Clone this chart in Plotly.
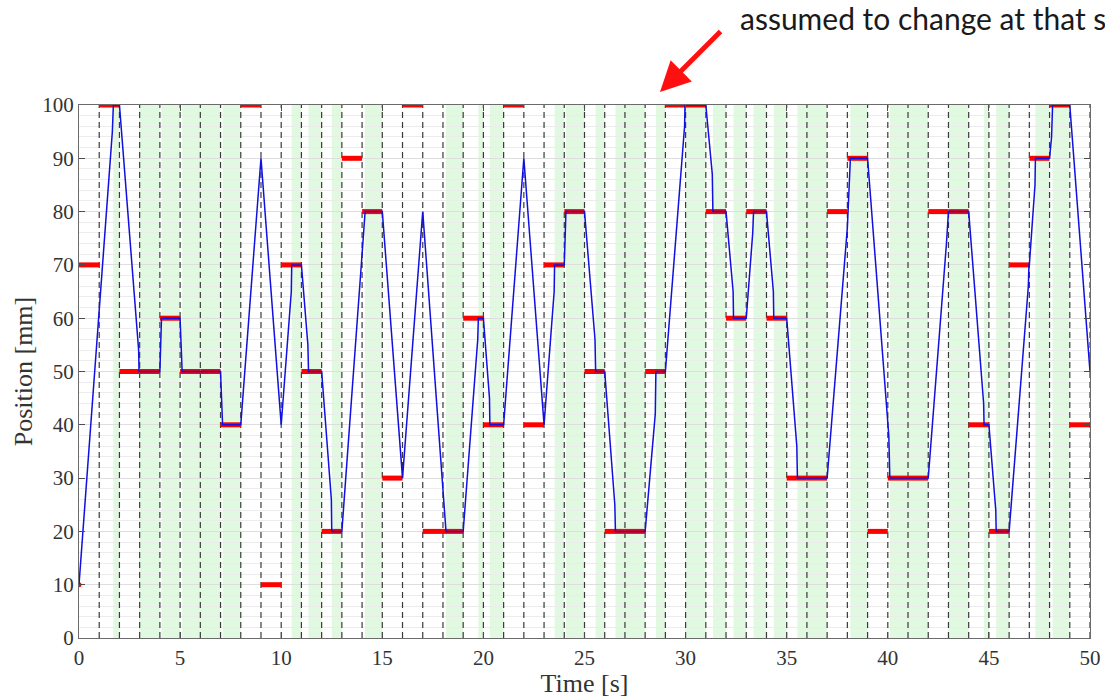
import plotly.graph_objects as go

# Commanded position held over each 1 s interval [k, k+1)
setpoint_mm = [70, 100, 50, 50, 60, 50, 50, 40, 100, 10,
               70, 50, 20, 90, 80, 30, 100, 20, 20, 60,
               40, 100, 40, 70, 80, 50, 20, 20, 50, 100,
               100, 80, 60, 80, 60, 30, 30, 80, 90, 20,
               30, 30, 80, 80, 40, 20, 70, 90, 100, 40]
start_t = 0
start_mm = 10

# Measured position, breakpoints of the recorded trace
pos_t = [0, 1.65, 1.7, 2.0, 2.95, 2.97, 4.0, 4.05, 4.08, 5.0, 5.05, 5.1,
         7.0, 7.05, 7.1, 8.0, 9.0, 10.0, 10.5, 10.52, 11.0, 11.32, 11.35,
         12.0, 12.48, 12.5, 13.0, 14.0, 14.15, 15.0, 15.97, 16.0, 17.0,
         18.0, 18.15, 19.0, 19.72, 19.75, 20.0, 20.3, 20.32, 21.0, 22.0,
         23.0, 23.5, 23.52, 24.0, 24.05, 24.08, 25.0, 25.52, 25.55, 26.0,
         26.5, 26.53, 28.0, 28.5, 28.53, 29.0, 29.95, 29.97, 31.0, 31.32,
         31.35, 32.0, 32.35, 32.37, 33.0, 33.32, 33.36, 34.0, 34.34, 34.36,
         35.0, 35.5, 35.53, 37.0, 38.0, 38.15, 39.0, 40.05, 40.1, 42.0,
         42.9, 43.0, 44.0, 44.74, 44.76, 45.0, 45.34, 45.36, 46.0, 46.95,
         46.98, 47.0, 47.28, 47.3, 48.0, 48.1, 48.15, 49.0, 50.0]
pos_mm = [10, 95, 100, 100, 54, 50, 50, 56, 60, 60, 55, 50,
          50, 45, 40, 40, 90, 40, 65, 70, 70, 55, 50,
          50, 26, 20, 20, 72, 80, 80, 30, 30, 80,
          27, 20, 20, 56, 60, 60, 45, 40, 40, 90,
          40, 65, 70, 70, 76, 80, 80, 56, 50, 50,
          25, 20, 20, 42, 50, 50, 96, 100, 100, 87,
          80, 80, 65, 60, 60, 76, 80, 80, 65, 60,
          60, 36, 30, 30, 77, 90, 90, 38, 30, 30,
          74, 80, 80, 44, 40, 40, 24, 20, 20, 66,
          70, 70, 85, 90, 90, 94, 100, 100, 50]

# Intervals during which the measured position sits on the setpoint
settled_start = [1.7, 2.97, 4.08, 5.1, 7.1, 10.52, 11.35, 12.5, 14.15, 18.15,
                 19.75, 20.32, 23.52, 24.08, 25.55, 26.53, 28.53, 29.97, 31.35,
                 32.37, 33.36, 34.36, 35.53, 38.15, 40.1, 43.0, 44.76, 45.36,
                 46.98, 47.3, 48.15]
settled_end = [2.0, 4.0, 5.0, 7.0, 8.0, 11.0, 12.0, 13.0, 15.0, 19.0,
               20.0, 21.0, 24.0, 25.0, 26.0, 28.0, 29.0, 31.0, 32.0,
               33.0, 34.0, 35.0, 37.0, 39.0, 42.0, 44.0, 45.0, 46.0,
               47.0, 48.0, 49.0]

# Setpoint update instants
update_t = list(range(1, 51))

x_ticks = list(range(0, 51, 5))
y_ticks = list(range(0, 101, 10))

SERIF = "Liberation Serif, Times New Roman, serif"

fig = go.Figure()

# settled intervals as light green bands
for a, b in zip(settled_start, settled_end):
    fig.add_shape(type="rect", xref="x", yref="y", x0=a, x1=b, y0=0, y1=100,
                  fillcolor="#e1f8e1", line_width=0, layer="below")

# dashed markers at each setpoint update
vx, vy = [], []
for t in update_t:
    vx += [t, t, None]
    vy += [0, 100, None]
fig.add_trace(go.Scatter(x=vx, y=vy, mode="lines", hoverinfo="skip",
                         line=dict(color="#3a3a3a", width=1.2, dash="6px,4px"),
                         showlegend=False))

# setpoint segments
sx, sy = [], []
for k, v in enumerate(setpoint_mm):
    sx += [k, k + 1, None]
    sy += [v, v, None]
fig.add_trace(go.Scatter(x=sx, y=sy, mode="lines",
                         line=dict(color="#ff0000", width=5),
                         showlegend=False))
fig.add_trace(go.Scatter(x=[start_t], y=[start_mm], mode="markers",
                         marker=dict(color="#ff0000", size=5),
                         showlegend=False))

# measured position
fig.add_trace(go.Scatter(x=pos_t, y=pos_mm, mode="lines",
                         line=dict(color="#1010e0", width=1.5),
                         showlegend=False))

# callout
fig.add_annotation(xref="paper", yref="paper", x=0.652, y=1.163,
                   xanchor="left", yanchor="middle", showarrow=False,
                   text="assumed to change at that s",
                   font=dict(family="Lato, Open Sans, sans-serif", size=30,
                             color="#1a1a1a"))
fig.add_annotation(xref="paper", yref="paper", x=0.5747, y=1.0244, text="",
                   showarrow=True, axref="pixel", ayref="pixel",
                   ax=62, ay=-62, arrowhead=2, arrowsize=1.2,
                   arrowwidth=5, arrowcolor="#ff1010", standoff=0)

fig.update_layout(
    width=1105, height=698,
    margin=dict(l=79, r=15, t=105, b=60, autoexpand=False),
    paper_bgcolor="white", plot_bgcolor="white",
    xaxis=dict(range=[0, 50], tickvals=x_ticks, ticks="inside", ticklen=6,
               tickcolor="#4d4d4d", showline=True, linecolor="#6b6b6b",
               linewidth=1.2, mirror="ticks", showgrid=False, zeroline=False,
               ticklabelstandoff=1,
               tickfont=dict(family=SERIF, size=21, color="#333"),
               title=dict(text="Time [s]", standoff=4,
                          font=dict(family=SERIF, size=26, color="#333"))),
    yaxis=dict(range=[0, 100], tickvals=y_ticks, ticks="inside", ticklen=6,
               tickcolor="#4d4d4d", showline=True, linecolor="#6b6b6b",
               linewidth=1.2, mirror="ticks", showgrid=True,
               gridcolor="#dedede", gridwidth=1, zeroline=False,
               minor=dict(dtick=2, showgrid=True, gridcolor="#ececec",
                          gridwidth=1),
               tickfont=dict(family=SERIF, size=21, color="#333"),
               title=dict(text="Position [mm]", standoff=2,
                          font=dict(family=SERIF, size=26, color="#333"))),
)

fig.write_html("out.html")
